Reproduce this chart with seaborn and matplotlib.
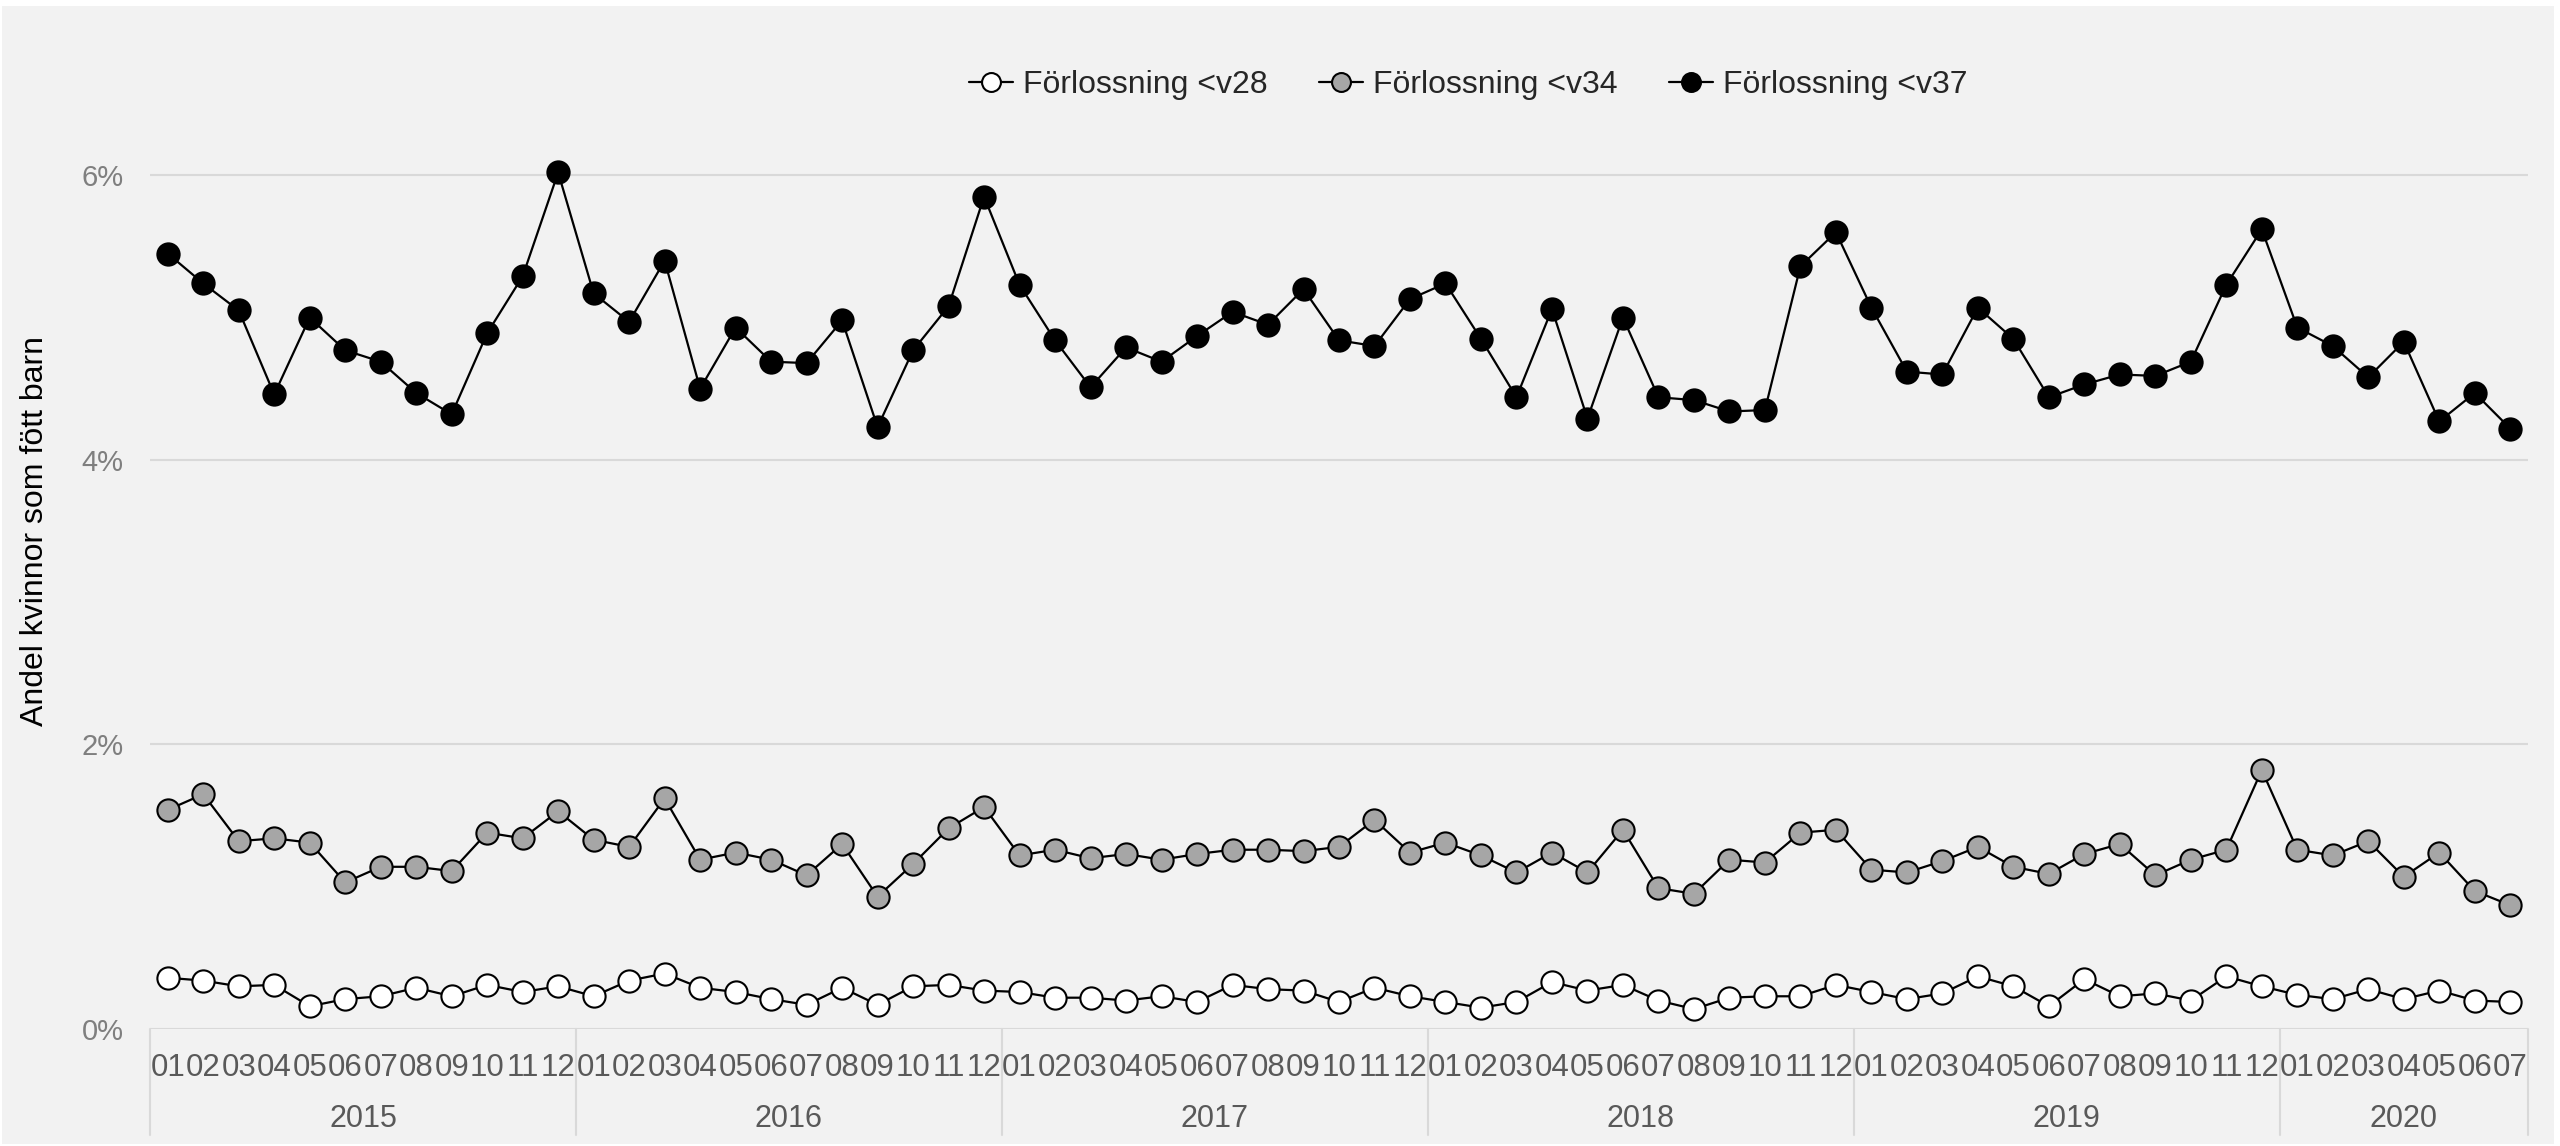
import numpy as np
import pandas as pd
import matplotlib
matplotlib.use("Agg")
import matplotlib.pyplot as plt
import matplotlib.transforms as mtransforms
from matplotlib.patches import Rectangle
import seaborn as sns

# ── Data (share of women giving birth, %) ─────────────────────────────────────
YEARS  = [2015, 2016, 2017, 2018, 2019, 2020]
MONTHS = ["01", "02", "03", "04", "05", "06", "07", "08", "09", "10", "11", "12"]
N_LAST = 7   # 2020 runs to month 07

V28 = [0.36, 0.34, 0.30, 0.31, 0.16, 0.21, 0.23, 0.29, 0.23, 0.31, 0.26, 0.30,
       0.23, 0.34, 0.39, 0.29, 0.26, 0.21, 0.17, 0.29, 0.17, 0.30, 0.31, 0.27,
       0.26, 0.22, 0.22, 0.20, 0.23, 0.19, 0.31, 0.28, 0.27, 0.19, 0.29, 0.23,
       0.19, 0.15, 0.19, 0.33, 0.27, 0.31, 0.20, 0.14, 0.22, 0.23, 0.23, 0.31,
       0.26, 0.21, 0.25, 0.37, 0.30, 0.16, 0.35, 0.23, 0.25, 0.20, 0.37, 0.30,
       0.24, 0.21, 0.28, 0.21, 0.27, 0.20, 0.19]
V34 = [1.54, 1.65, 1.32, 1.34, 1.31, 1.03, 1.14, 1.14, 1.11, 1.38, 1.34, 1.53,
       1.33, 1.28, 1.62, 1.19, 1.24, 1.19, 1.08, 1.30, 0.93, 1.16, 1.41, 1.56,
       1.22, 1.26, 1.20, 1.23, 1.19, 1.23, 1.26, 1.26, 1.25, 1.28, 1.47, 1.24,
       1.31, 1.22, 1.10, 1.24, 1.10, 1.40, 0.99, 0.95, 1.19, 1.17, 1.38, 1.40,
       1.12, 1.10, 1.18, 1.28, 1.14, 1.09, 1.23, 1.30, 1.08, 1.19, 1.26, 1.82,
       1.26, 1.22, 1.32, 1.07, 1.24, 0.97, 0.87]
V37 = [5.45, 5.24, 5.05, 4.46, 5.00, 4.77, 4.69, 4.47, 4.32, 4.89, 5.29, 6.02,
       5.17, 4.97, 5.40, 4.50, 4.93, 4.69, 4.68, 4.98, 4.23, 4.77, 5.08, 5.85,
       5.23, 4.84, 4.51, 4.79, 4.69, 4.87, 5.04, 4.95, 5.20, 4.84, 4.80, 5.13,
       5.24, 4.85, 4.44, 5.06, 4.29, 5.00, 4.44, 4.42, 4.34, 4.35, 5.36, 5.60,
       5.07, 4.62, 4.60, 5.07, 4.85, 4.44, 4.53, 4.60, 4.59, 4.69, 5.23, 5.62,
       4.93, 4.80, 4.58, 4.83, 4.27, 4.47, 4.22]

SERIES = [("Förlossning <v28", V28, "white"),
          ("Förlossning <v34", V34, "#a6a6a6"),
          ("Förlossning <v37", V37, "black")]

BG = "#f2f2f2"
GRID = "#d9d9d9"

# ── Build table ───────────────────────────────────────────────────────────────
periods = [(y, m) for y in YEARS for m in MONTHS]
periods = periods[:len(periods) - (12 - N_LAST)]
df = pd.DataFrame({
    "idx":   np.arange(len(periods)),
    "year":  [p[0] for p in periods],
    "month": [p[1] for p in periods],
})
for name, vals, _ in SERIES:
    df[name] = vals

# ── Plot ──────────────────────────────────────────────────────────────────────
sns.set_style("white", {"axes.facecolor": BG})
plt.rcParams["font.family"] = ["Liberation Sans", "DejaVu Sans"]

W, H = 2560, 1146
fig = plt.figure(figsize=(W / 100, H / 100), dpi=100)
fig.patch.set_facecolor("white")
fig.patches.append(Rectangle((2 / W, 2 / H), 1 - 8 / W, 1 - 8 / H,
                             transform=fig.transFigure, facecolor=BG,
                             edgecolor="none", zorder=-10))

AX_L, AX_R = 150, 2528
ax = fig.add_axes([AX_L / W, 1 - 1029 / H, (AX_R - AX_L) / W, (1029 - 33) / H])
ax.set_facecolor(BG)

for name, vals, fc in SERIES:
    sns.lineplot(data=df, x="idx", y=name, ax=ax, color="black", linewidth=1.6,
                 marker="o", markersize=16, markerfacecolor=fc,
                 markeredgecolor="black", markeredgewidth=1.5, label=name,
                 legend=False)

ax.set_xlim(-0.5, len(df) - 0.5)
ax.set_ylim(0, 7)
ax.set_yticks([0, 2, 4, 6])
ax.set_yticklabels([f"{v}%" for v in [0, 2, 4, 6]])
ax.yaxis.grid(True, color=GRID, linewidth=1.5)
ax.xaxis.grid(False)
ax.set_axisbelow(True)
for s in ax.spines.values():
    s.set_visible(False)

ax.set_xticks(df["idx"])
ax.set_xticklabels(df["month"])
ax.tick_params(axis="x", length=0, pad=17, labelsize=22.5, labelcolor="#595959")
ax.tick_params(axis="y", length=0, pad=19, labelsize=21, labelcolor="#7f7f7f")
ax.set_xlabel("")
ax.set_ylabel("Andel kvinnor som fött barn", fontsize=23, color="black")
ax.yaxis.set_label_coords(-(AX_L - 50) / (AX_R - AX_L), 0.5)

# year group labels + separators under the month labels
trans = mtransforms.blended_transform_factory(ax.transData, ax.transAxes)
for yr, grp in df.groupby("year"):
    ax.text(grp["idx"].mean(), -0.090, str(yr), transform=trans, ha="center",
            va="center", fontsize=22, color="#595959")
bounds = [g["idx"].min() - 0.5 for _, g in df.groupby("year")] + [len(df) - 0.5]
for b in bounds:
    ax.plot([b, b], [0, -0.106], transform=trans, clip_on=False,
            color=GRID, linewidth=1.5)

handles, labels = ax.get_legend_handles_labels()
fig.legend(handles, labels, loc="center", ncol=3,
           bbox_to_anchor=(1468 / W, 1 - 85 / H), frameon=False, fontsize=23,
           handlelength=1.4, handletextpad=0.3, columnspacing=1.6,
           markerscale=0.85)

fig.savefig("out.png", dpi=100, facecolor=fig.get_facecolor())
